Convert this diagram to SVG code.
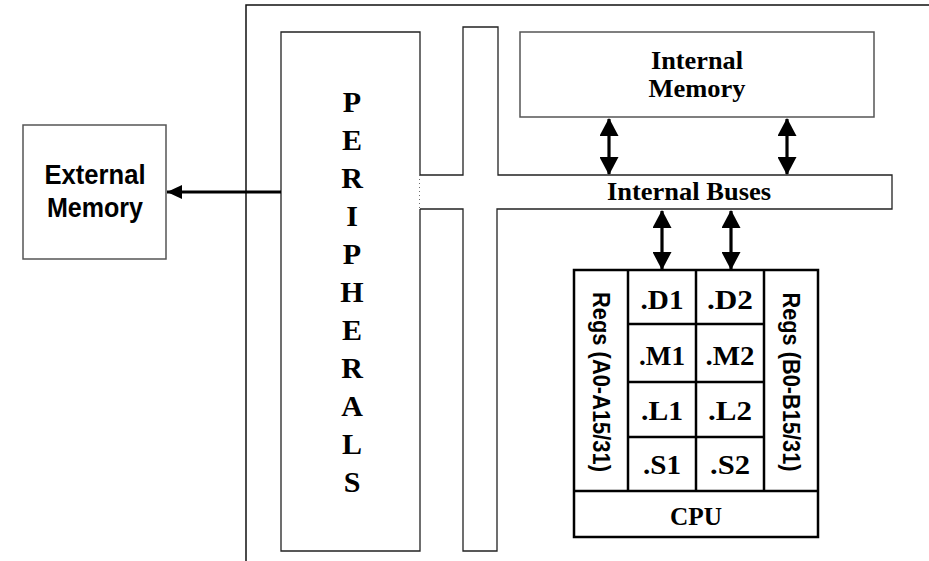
<svg xmlns="http://www.w3.org/2000/svg" width="929" height="561" viewBox="0 0 929 561">
<style>
.thin{fill:#fff;stroke:#222;stroke-width:1.3}
.gray{fill:#fff;stroke:#555;stroke-width:1.5}
.cpu{fill:#fff;stroke:#000;stroke-width:2.5}
.serif{font-family:"Liberation Serif","Times New Roman",serif;font-weight:bold;fill:#000;text-anchor:middle}
.sans{font-family:"Liberation Sans",Arial,sans-serif;fill:#000;text-anchor:middle}
.arr{stroke:#000;stroke-width:3.2;fill:none}
</style>
<defs>
<marker id="hd" markerUnits="userSpaceOnUse" markerWidth="19" markerHeight="19" refX="17" refY="9.5" orient="auto-start-reverse" viewBox="0 0 19 19">
<path d="M0,0 L18,9.5 L0,19 Z" fill="#000"/>
</marker>
<marker id="hs" markerUnits="userSpaceOnUse" markerWidth="16" markerHeight="14" refX="15" refY="7" orient="auto" viewBox="0 0 16 14">
<path d="M0,0 L15,7 L0,14 Z" fill="#000"/>
</marker>
</defs>
<rect width="929" height="561" fill="#fff"/>
<g id="chip-frame">
<path d="M246,561 V5 H929" fill="none" stroke="#111" stroke-width="1.5"/>
</g>
<g id="external-memory">
<rect x="23" y="125" width="143" height="134" class="gray"/>
<text x="95" y="184" class="sans" font-size="27" font-weight="bold" textLength="101" lengthAdjust="spacingAndGlyphs">External</text>
<text x="95" y="217" class="sans" font-size="27" font-weight="bold" textLength="96" lengthAdjust="spacingAndGlyphs">Memory</text>
</g>
<g id="peripherals">
<path d="M420,175 V32 H281 V551 H420 V209" fill="#fff" stroke="#222" stroke-width="1.3"/>
<line x1="420" y1="175" x2="420" y2="209" stroke="#222" stroke-width="1.3" stroke-dasharray="1,3"/>
<g class="serif" font-size="30">
<text x="352" y="112">P</text>
<text x="352" y="150">E</text>
<text x="352" y="188">R</text>
<text x="352" y="226">I</text>
<text x="352" y="264">P</text>
<text x="352" y="302">H</text>
<text x="352" y="340">E</text>
<text x="352" y="378">R</text>
<text x="352" y="416">A</text>
<text x="352" y="454">L</text>
<text x="352" y="492">S</text>
</g>
</g>
<g id="internal-buses">
<path d="M420,175 H463 V27 H498 V175 H892 V209 H497 V551 H463 V209 H420" class="thin"/>
<text x="689" y="200" class="serif" font-size="25" textLength="164" lengthAdjust="spacingAndGlyphs">Internal Buses</text>
</g>
<g id="internal-memory">
<rect x="520" y="32" width="354" height="85" class="gray"/>
<text x="697" y="69" class="serif" font-size="25" textLength="92" lengthAdjust="spacingAndGlyphs">Internal</text>
<text x="697" y="97" class="serif" font-size="25" textLength="97" lengthAdjust="spacingAndGlyphs">Memory</text>
</g>
<g id="cpu">
<rect x="574" y="270" width="244" height="267" class="cpu"/>
<line x1="574" y1="491" x2="818" y2="491" stroke="#000" stroke-width="2.5"/>
<line x1="628" y1="270" x2="628" y2="491" stroke="#000" stroke-width="2.5"/>
<line x1="696" y1="270" x2="696" y2="491" stroke="#000" stroke-width="2.5"/>
<line x1="764" y1="270" x2="764" y2="491" stroke="#000" stroke-width="2.5"/>
<line x1="628" y1="324" x2="764" y2="324" stroke="#000" stroke-width="2.5"/>
<line x1="628" y1="382" x2="764" y2="382" stroke="#000" stroke-width="2.5"/>
<line x1="628" y1="437" x2="764" y2="437" stroke="#000" stroke-width="2.5"/>
<g class="serif" font-size="28">
<text x="662" y="309" textLength="43" lengthAdjust="spacingAndGlyphs">.D1</text>
<text x="730" y="309" textLength="46" lengthAdjust="spacingAndGlyphs">.D2</text>
<text x="662" y="365" textLength="46" lengthAdjust="spacingAndGlyphs">.M1</text>
<text x="730" y="365" textLength="49" lengthAdjust="spacingAndGlyphs">.M2</text>
<text x="662" y="420" textLength="42" lengthAdjust="spacingAndGlyphs">.L1</text>
<text x="730" y="420" textLength="44" lengthAdjust="spacingAndGlyphs">.L2</text>
<text x="662" y="474" textLength="38" lengthAdjust="spacingAndGlyphs">.S1</text>
<text x="730" y="474" textLength="40" lengthAdjust="spacingAndGlyphs">.S2</text>
</g>
<text x="696" y="525" class="serif" font-size="26" textLength="52" lengthAdjust="spacingAndGlyphs">CPU</text>
<text transform="translate(601,382) rotate(90)" x="0" y="8" class="sans" font-size="23" font-weight="bold" textLength="180" lengthAdjust="spacingAndGlyphs">Regs (A0-A15/31)</text>
<text transform="translate(791,382) rotate(90)" x="0" y="8" class="sans" font-size="23" font-weight="bold" textLength="179" lengthAdjust="spacingAndGlyphs">Regs (B0-B15/31)</text>
</g>
<g id="connectors">
<line x1="609" y1="119" x2="609" y2="174" class="arr" marker-start="url(#hd)" marker-end="url(#hd)"/>
<line x1="787" y1="119" x2="787" y2="174" class="arr" marker-start="url(#hd)" marker-end="url(#hd)"/>
<line x1="662" y1="211" x2="662" y2="269" class="arr" marker-start="url(#hd)" marker-end="url(#hd)"/>
<line x1="731" y1="211" x2="731" y2="269" class="arr" marker-start="url(#hd)" marker-end="url(#hd)"/>
<line x1="281" y1="192" x2="167" y2="192" class="arr" marker-end="url(#hs)"/>
</g>
</svg>
